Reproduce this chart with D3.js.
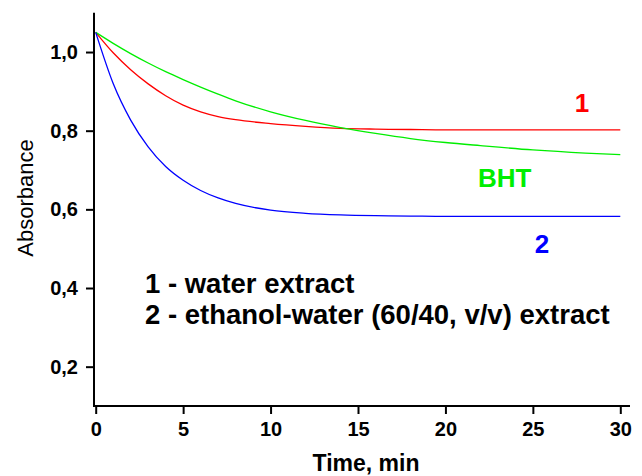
<!DOCTYPE html>
<html>
<head>
<meta charset="utf-8">
<script src="https://cdn.jsdelivr.net/npm/d3@7"></script>
<style>
  body { margin: 0; background: #fff; }
  text { font-family: "Liberation Sans", Arial, sans-serif; }
</style>
</head>
<body>
<svg id="chart" width="642" height="476"></svg>
<script>
const time = [0, 1, 2, 3, 4, 5, 6, 7, 8, 10, 12, 14, 16, 18, 20, 22, 25, 28, 30]
const waterExtract = [1.050, 0.998, 0.955, 0.919, 0.889, 0.865, 0.848, 0.836, 0.828, 0.818, 0.811, 0.806, 0.804, 0.803, 0.802, 0.802, 0.802, 0.802, 0.802]
const ethanolExtract = [1.050, 0.920, 0.827, 0.759, 0.709, 0.674, 0.648, 0.629, 0.615, 0.598, 0.590, 0.586, 0.584, 0.583, 0.582, 0.582, 0.582, 0.582, 0.582]
const bht = [1.050, 1.022, 0.996, 0.972, 0.950, 0.930, 0.911, 0.893, 0.876, 0.848, 0.826, 0.808, 0.793, 0.780, 0.770, 0.762, 0.751, 0.743, 0.739]
const xTicks = [0, 5, 10, 15, 20, 25, 30]
const xMinor = [2.5, 7.5, 12.5, 17.5, 22.5, 27.5]
const yTicks = [0.2, 0.4, 0.6, 0.8, 1.0]
const yMinor = [0.1, 0.3, 0.5, 0.7, 0.9, 1.1]

const svg = d3.select("#chart")

const x = d3.scaleLinear().domain([0, 30]).range([95.7, 620.3])
const y = d3.scaleLinear().domain([0.1, 1.1]).range([406, 12.7])

const series = [
  {vals: waterExtract, color: "#ff0000"},
  {vals: bht, color: "#00ee00"},
  {vals: ethanolExtract, color: "#0000ff"}
]

const line = d3.line()
  .x(d => x(d[0]))
  .y(d => y(d[1]))
  .curve(d3.curveMonotoneX)

svg.selectAll("path.curve")
  .data(series)
  .enter()
  .append("path")
  .attr("class", "curve")
  .attr("fill", "none")
  .attr("stroke", d => d.color)
  .attr("stroke-width", 1.3)
  .attr("d", d => line(time.map((t, i) => [t, d.vals[i]])))

// axes
const yAxis = d3.axisLeft(y).tickValues(yTicks).tickSize(8).tickPadding(8)
  .tickFormat(d => d3.format(".1f")(d).replace(".", ","))
const yAxisMinor = d3.axisLeft(y).tickValues(yMinor).tickSize(5).tickFormat("")
const xAxis = d3.axisBottom(x).tickValues(xTicks).tickSize(8).tickPadding(8)
const xAxisMinor = d3.axisBottom(x).tickValues(xMinor).tickSize(5).tickFormat("")

const gy = svg.append("g").attr("transform", "translate(94,0)")
gy.call(yAxisMinor)
gy.call(yAxis)
const gx = svg.append("g").attr("transform", "translate(0,406)")
gx.call(xAxisMinor)
gx.call(xAxis)

svg.selectAll(".domain").remove()
svg.selectAll(".tick line").attr("stroke", "#000").attr("stroke-width", 2)
svg.selectAll(".tick text")
  .attr("fill", "#000")
  .style("font-size", "20px")
  .style("font-weight", "bold")

svg.append("line").attr("x1", 94).attr("x2", 94).attr("y1", y(1.1)).attr("y2", 406)
  .attr("stroke", "#000").attr("stroke-width", 2)
svg.append("line").attr("x1", 93).attr("x2", 630).attr("y1", 406).attr("y2", 406)
  .attr("stroke", "#000").attr("stroke-width", 2)

// axis titles
svg.append("text")
  .attr("x", 366).attr("y", 471)
  .attr("text-anchor", "middle")
  .style("font-size", "23px").style("font-weight", "bold")
  .text("Time, min")

svg.append("text")
  .attr("transform", "translate(33,198) rotate(-90)")
  .attr("text-anchor", "middle")
  .style("font-size", "22px")
  .text("Absorbance")

// curve labels
svg.append("text").attr("x", 582).attr("y", 112).attr("text-anchor", "middle")
  .attr("fill", "#ff0000").style("font-size", "26px").style("font-weight", "bold").text("1")
svg.append("text").attr("x", 478).attr("y", 187)
  .attr("fill", "#00ee00").style("font-size", "26px").style("font-weight", "bold").text("BHT")
svg.append("text").attr("x", 542).attr("y", 253).attr("text-anchor", "middle")
  .attr("fill", "#0000ff").style("font-size", "26px").style("font-weight", "bold").text("2")

// legend text
const notes = ["1 - water extract", "2 - ethanol-water (60/40, v/v) extract"]
svg.selectAll("text.note")
  .data(notes)
  .enter()
  .append("text")
  .attr("class", "note")
  .attr("x", 145)
  .attr("y", (d, i) => 293 + i * 31)
  .style("font-size", "27.5px").style("font-weight", "bold")
  .text(d => d)
</script>
</body>
</html>
